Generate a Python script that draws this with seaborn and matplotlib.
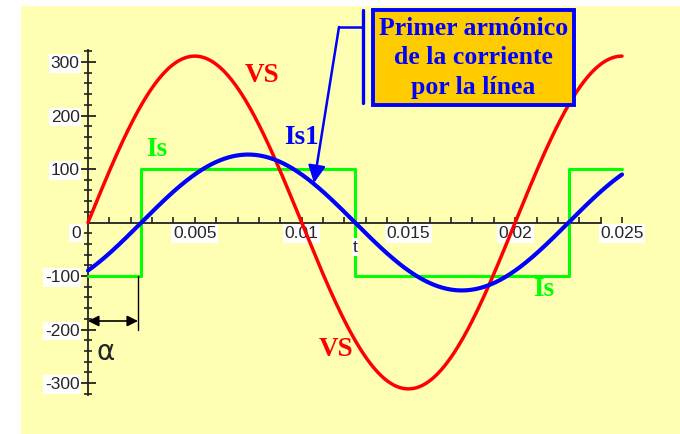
import numpy as np
import pandas as pd
import seaborn as sns
import matplotlib
matplotlib.use("Agg")
import matplotlib.pyplot as plt
from matplotlib.patches import Rectangle
from matplotlib.ticker import FixedLocator

# ---- waveform parameters ----
freq_hz = [50.0]
vs_peak = [311.0]          # line voltage peak (V)
is_level = [100.0]         # square-wave line current level (A)
is1_peak = [127.0]         # first-harmonic current peak (A)
alpha_s = [0.0025]         # firing delay
t_span = [0.0, 0.025]

# current steps (time, value)
is_t = [0.0, 0.0025, 0.0025, 0.0125, 0.0125, 0.0225, 0.0225, 0.025]
is_v = [-100, -100, 100, 100, -100, -100, 100, 100]

xticks_major = [0.005, 0.01, 0.015, 0.02, 0.025]
xtick_labels = ["0.005", "0.01", "0.015", "0.02", "0.025"]
yticks_major = [-300, -200, -100, 100, 200, 300]
ytick_labels = ["-300", "-200", "-100", "100", "200", "300"]

t = np.linspace(t_span[0], t_span[1], 600)
w = 2 * np.pi * freq_hz[0]
df_vs = pd.DataFrame({"t": t, "v": vs_peak[0] * np.sin(w * t)})
df_is1 = pd.DataFrame({"t": t, "v": is1_peak[0] * np.sin(w * (t - alpha_s[0]))})
df_is = pd.DataFrame({"t": is_t, "v": is_v})

RED, BLUE, GREEN = "#ff0000", "#0000ff", "#00ff00"
YELLOW, ORANGE = "#ffffb4", "#ffcc00"

sns.set_theme(style="white")
plt.rcParams["font.family"] = ["Liberation Sans", "DejaVu Sans"]

W, H = 680, 434
fig = plt.figure(figsize=(W / 100, H / 100), dpi=100)
fig.patch.set_facecolor("white")
fig.patches.append(Rectangle((21 / W, 0), (W - 21) / W, (H - 6) / H,
                             transform=fig.transFigure, facecolor=YELLOW,
                             edgecolor="none", zorder=-5))

ax = fig.add_axes([0, 0, 1, 1])
ax.patch.set_alpha(0)
ax.set_zorder(1)

# pixel scale of the plot area
KX = 21360.0      # px per second
KY = 0.535        # px per unit
X0, Y0 = 88.0, 222.5
ax.set_xlim(-X0 / KX, (W - X0) / KX)
ax.set_ylim(-(H - Y0) / KY, Y0 / KY)


def px(xp, yp):
    """pixel position (from top-left) -> data coordinates"""
    return (xp - X0) / KX, (Y0 - yp) / KY


sns.lineplot(data=df_vs, x="t", y="v", ax=ax, color=RED, lw=2.5, zorder=3)
sns.lineplot(data=df_is, x="t", y="v", ax=ax, color=GREEN, lw=2.2,
             sort=False, estimator=None, zorder=2)
sns.lineplot(data=df_is1, x="t", y="v", ax=ax, color=BLUE, lw=3.0, zorder=4)
ax.set_xlabel("")
ax.set_ylabel("")

# axes through the origin
for s in ("top", "right"):
    ax.spines[s].set_visible(False)
ax.spines["left"].set_position(("data", 0))
ax.spines["bottom"].set_position(("data", 0))
ax.spines["left"].set_bounds(-322, 322)
ax.spines["bottom"].set_bounds(0, 0.024)
for s in ("left", "bottom"):
    ax.spines[s].set_color("#222222")
    ax.spines[s].set_linewidth(1.3)
    ax.spines[s].set_zorder(1)

ax.xaxis.set_major_locator(FixedLocator(xticks_major))
ax.set_xticklabels(xtick_labels)
ax.xaxis.set_minor_locator(FixedLocator([i / 1000 for i in range(1, 26) if i % 5]))
ax.yaxis.set_major_locator(FixedLocator(yticks_major))
ax.set_yticklabels(ytick_labels)
ax.yaxis.set_minor_locator(FixedLocator([v for v in range(-320, 321, 20) if v % 100]))

ax.tick_params(axis="x", which="both", direction="in", length=4, width=1.2,
               color="#222222", bottom=True, labelsize=12.5, pad=2.5)
ax.tick_params(axis="y", which="major", direction="inout", length=11, width=1.3,
               color="#222222", left=True, labelsize=12.5, pad=0.5)
ax.tick_params(axis="y", which="minor", direction="inout", length=6, width=1.2,
               color="#222222", left=True)
for lab in ax.get_xticklabels() + ax.get_yticklabels():
    lab.set_bbox(dict(facecolor="white", edgecolor="none", pad=1.2))
    lab.set_zorder(6)

ax.text(*px(76, 233), "0", fontsize=12.5, ha="center", va="center",
        bbox=dict(facecolor="white", edgecolor="none", pad=1.2), zorder=6)
ax.text(*px(355, 247), "t", fontsize=12.5, ha="center", va="center",
        bbox=dict(facecolor="white", edgecolor="none", pad=0.8), zorder=6)

# curve labels
serif = ["Liberation Serif", "DejaVu Serif"]
lab_kw = dict(family=serif, fontweight="bold", fontsize=19.5, ha="center",
              va="center", zorder=7)
ax.text(*px(262, 75), "VS", color=RED, **lab_kw)
ax.text(*px(336, 349), "VS", color=RED, **lab_kw)
ax.text(*px(157, 150), "Is", color=GREEN, **lab_kw)
ax.text(*px(544, 289), "Is", color=GREEN, **lab_kw)
ax.text(*px(301, 137), "Is1", color=BLUE, **lab_kw)

# firing angle dimension
ax.annotate("", xy=px(88, 321), xytext=px(138, 321),
            arrowprops=dict(arrowstyle="<|-|>", color="black", lw=1.2,
                            mutation_scale=16, shrinkA=0, shrinkB=0), zorder=7)
ax.plot(*zip(px(138, 276), px(138, 330)), color="black", lw=1.0, zorder=7)
ax.text(*px(106, 352), "α", fontsize=20, ha="center", va="center",
        family=["DejaVu Sans"], zorder=7)

# callout for the first harmonic
bx0, by0, bx1, by1 = 373, 10, 574, 105
ax.add_patch(Rectangle(px(bx0, by1), (bx1 - bx0) / KX, (by1 - by0) / KY,
                       facecolor=ORANGE, edgecolor=BLUE, lw=2.8, zorder=8))
ax.text(*px((bx0 + bx1) / 2, 58),
        "Primer armónico\nde la corriente\npor la línea",
        family=serif, fontweight="bold", fontsize=18.5, color=BLUE,
        ha="center", va="center", linespacing=1.35, zorder=9)
ax.plot(*zip(px(363, 10), px(363, 103)), color=BLUE, lw=2.4, zorder=8)
ax.plot(*zip(px(339, 27), px(363, 27)), color=BLUE, lw=1.8, zorder=8)
ax.annotate("", xy=px(314, 183), xytext=px(339, 27),
            arrowprops=dict(arrowstyle="-|>", color=BLUE, lw=1.8,
                            mutation_scale=26, shrinkA=0, shrinkB=0), zorder=8)

fig.savefig("out.png", dpi=100, facecolor=fig.get_facecolor())
